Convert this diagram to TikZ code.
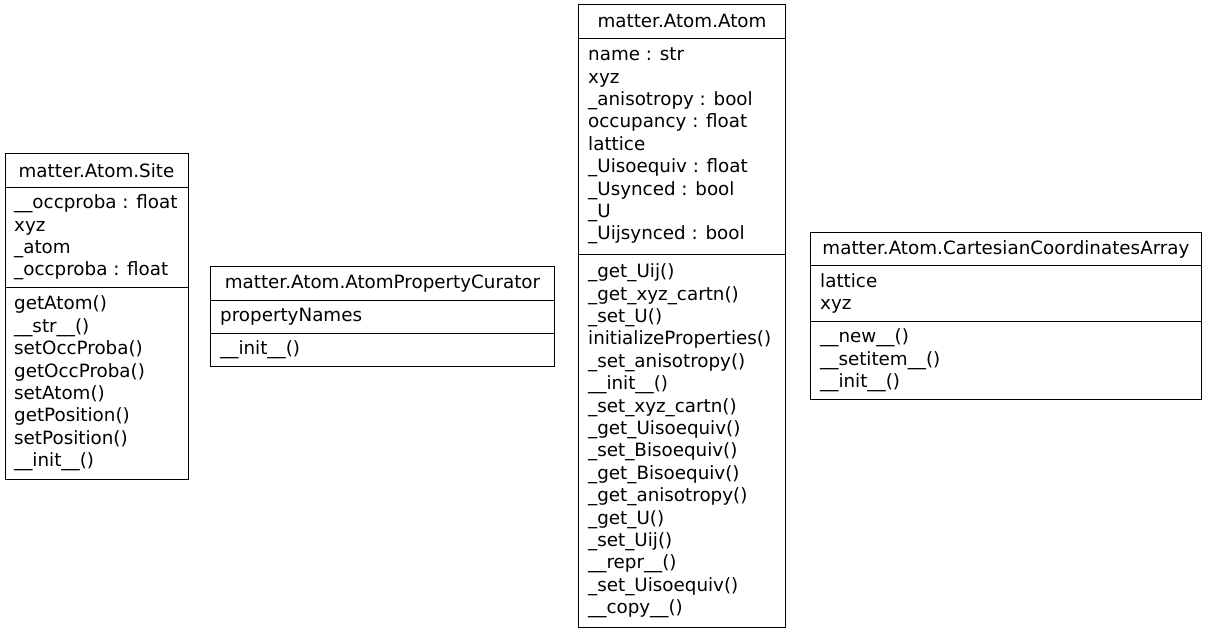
\documentclass[tikz,border=0pt]{standalone}
\usepackage{fontspec}
\setmainfont{DejaVu Sans}
\begin{document}
\begin{tikzpicture}[x=1pt,y=-1pt,
  txt/.style={inner sep=0pt, align=left, anchor=west, font=\fontsize{18.3}{22.4}\selectfont},
  ttl/.style={inner sep=0pt, anchor=center, font=\fontsize{18.3}{22.4}\selectfont},
  box/.style={draw=black, line width=1pt}]
\useasboundingbox (0,0) rectangle (1208,632);
% matter.Atom.Site
\draw[box] (5.5,153.5) rectangle (188.5,479.5);
\draw[box] (5.5,187.5) -- (188.5,187.5);
\draw[box] (5.5,287.5) -- (188.5,287.5);
\node[ttl] (site) at (96.5,170.5) {matter.Atom.Site};
\node[txt] (siteA) at (14,237.5) {\_\_occproba : float\\xyz\\\_atom\\\_occproba : float};
\node[txt] (siteM) at (14,383.5) {getAtom()\\\_\_str\_\_()\\setOccProba()\\getOccProba()\\setAtom()\\getPosition()\\setPosition()\\\_\_init\_\_()};
% matter.Atom.AtomPropertyCurator
\draw[box] (210.5,266.5) rectangle (554.5,366.5);
\draw[box] (210.5,300) -- (554.5,300);
\draw[box] (210.5,333) -- (554.5,333);
\node[ttl] (cur) at (382.5,283.3) {matter.Atom.AtomPropertyCurator};
\node[txt] (curA) at (220,316.5) {propertyNames};
\node[txt] (curM) at (220,349.8) {\_\_init\_\_()};
% matter.Atom.Atom
\draw[box] (578.5,4.5) rectangle (785.5,627.5);
\draw[box] (578.5,38) -- (785.5,38);
\draw[box] (578.5,254) -- (785.5,254);
\node[ttl] (atom) at (682,21.3) {matter.Atom.Atom};
\node[txt] (atomA) at (588,146) {name : str\\xyz\\\_anisotropy : bool\\occupancy : float\\lattice\\\_Uisoequiv : float\\\_Usynced : bool\\\_U\\\_Uijsynced : bool};
\node[txt] (atomM) at (588,440.8) {\_get\_Uij()\\\_get\_xyz\_cartn()\\\_set\_U()\\initializeProperties()\\\_set\_anisotropy()\\\_\_init\_\_()\\\_set\_xyz\_cartn()\\\_get\_Uisoequiv()\\\_set\_Bisoequiv()\\\_get\_Bisoequiv()\\\_get\_anisotropy()\\\_get\_U()\\\_set\_Uij()\\\_\_repr\_\_()\\\_set\_Uisoequiv()\\\_\_copy\_\_()};
% matter.Atom.CartesianCoordinatesArray
\draw[box] (810.5,232.5) rectangle (1201.5,399.5);
\draw[box] (810.5,265.5) -- (1201.5,265.5);
\draw[box] (810.5,321.5) -- (1201.5,321.5);
\node[ttl] (cart) at (1006,249) {matter.Atom.CartesianCoordinatesArray};
\node[txt] (cartA) at (820,293.5) {lattice\\xyz};
\node[txt] (cartM) at (820,360.5) {\_\_new\_\_()\\\_\_setitem\_\_()\\\_\_init\_\_()};
\end{tikzpicture}
\end{document}
